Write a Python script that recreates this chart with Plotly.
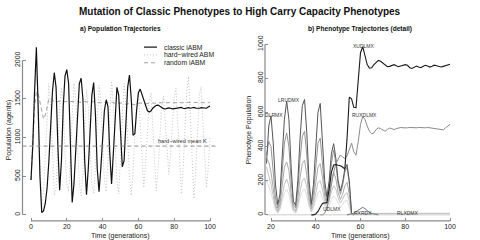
import plotly.graph_objects as go

# ---------------- data ----------------
gens = list(range(0, 101))
classic_iabm = [450, 900, 1600, 2170, 1400, 500, 30, 50, 150, 350,
                700, 1150, 1600, 1840, 1650, 900, 320, 700, 1400, 1800,
                1880, 1700, 800, 160, 400, 900, 1400, 1700, 1768, 1500,
                700, 260, 600, 1100, 1550, 1713, 1300, 600, 300, 600,
                1000, 1350, 1490, 1400, 800, 400, 800, 1300, 1650, 1550,
                1000, 620, 700, 1200, 1650, 1810, 1500, 1030, 1050, 1350,
                1580, 1628, 1560, 1480, 1400, 1350, 1332, 1345, 1380, 1405,
                1418, 1421, 1410, 1390, 1375, 1370, 1378, 1385, 1380, 1372,
                1376, 1382, 1379, 1385, 1390, 1380, 1375, 1383, 1388, 1380,
                1384, 1390, 1382, 1376, 1380, 1388, 1385, 1375, 1380, 1395,
                1410]
hardwired_abm = [450, 1100, 1700, 1900, 1300, 500, 100, 300, 800, 1350,
                 1700, 1400, 800, 250, 350, 850, 1400, 1650, 1350, 800,
                 400, 300, 700, 1250, 1700, 1500, 900, 400, 250, 550,
                 1100, 1620, 1400, 850, 400, 280, 600, 1200, 1680, 1450,
                 900, 450, 300, 700, 1300, 1730, 1450, 900, 450, 270,
                 700, 1300, 1700, 1450, 950, 500, 250, 550, 1050, 1450,
                 1600, 1200, 700, 350, 650, 1100, 1450, 1580, 1150, 650,
                 310, 600, 1050, 1400, 1540, 1200, 800, 520, 800, 1200,
                 1520, 1640, 1200, 650, 270, 600, 1150, 1600, 1790, 1300,
                 700, 210, 550, 1100, 1550, 1660, 1200, 700, 350, 600,
                 1000]
random_iabm = [450, 950, 1400, 1590, 1570, 1460, 1330, 1240, 1290, 1410,
               1500, 1510, 1485, 1465, 1458, 1466, 1472, 1468, 1460, 1462,
               1470, 1468, 1460, 1458, 1464, 1470, 1466, 1458, 1455, 1462,
               1468, 1463, 1455, 1452, 1460, 1466, 1460, 1452, 1450, 1456,
               1462, 1458, 1450, 1446, 1452, 1458, 1452, 1445, 1440, 1446,
               1452, 1448, 1440, 1432, 1436, 1444, 1438, 1425, 1422, 1432,
               1442, 1448, 1446, 1440, 1436, 1440, 1446, 1450, 1448, 1444,
               1446, 1452, 1456, 1452, 1448, 1450, 1455, 1458, 1454, 1450,
               1452, 1456, 1458, 1455, 1450, 1452, 1457, 1460, 1456, 1452,
               1454, 1458, 1460, 1456, 1452, 1450, 1455, 1452, 1446, 1450,
               1462]
hardwired_mean_K = 890

x_ticks_a = [0, 20, 40, 60, 80, 100]
y_ticks_a = [0, 500, 1000, 1500, 2000]
x_ticks_b = [20, 40, 60, 80, 100]
y_ticks_b = [0, 200, 400, 600, 800, 1000]

# phenotype detail (panel b)
osc_gens = list(range(18, 58))
pheno_lrudmx = [300, 520, 580, 420, 180, 60, 120, 330, 560, 666,
                560, 280, 80, 55, 200, 450, 640, 676, 480, 200,
                65, 180, 420, 600, 653, 450, 200, 105, 200, 360,
                417, 330, 200, 140, 190, 270, 295, 200, 10, 0]
pheno_osc2 = [350, 430, 400, 250, 100, 40, 90, 250, 420, 480,
              400, 200, 60, 40, 150, 330, 460, 490, 350, 150,
              50, 130, 300, 420, 450, 320, 150, 80, 160, 300,
              380, 300, 180, 120, 170, 250, 280, 180, 10, 0]
pheno_osc3 = [330, 310, 250, 150, 60, 25, 60, 170, 280, 310,
              260, 130, 40, 25, 100, 220, 300, 320, 230, 100,
              35, 90, 200, 280, 300, 220, 110, 60, 110, 200,
              250, 210, 130, 90, 120, 170, 190, 120, 5, 0]
pheno_osc4 = [280, 230, 180, 110, 40, 15, 40, 110, 180, 210,
              170, 90, 30, 15, 60, 140, 200, 215, 160, 70,
              20, 60, 130, 190, 200, 150, 80, 40, 80, 140,
              170, 150, 100, 70, 90, 120, 130, 80, 5, 0]
pheno_osc5 = [200, 170, 130, 80, 30, 10, 30, 80, 130, 150,
              120, 60, 20, 10, 40, 100, 140, 150, 110, 50,
              15, 40, 90, 130, 140, 100, 50, 25, 50, 90,
              110, 95, 65, 45, 60, 80, 85, 50, 3, 0]
xud_gens = list(range(38, 101))
pheno_xudlmx = [0, 0, 5, 20, 45, 67, 70, 72, 150, 250,
                292, 295, 290, 288, 280, 268, 450, 690, 680, 630,
                628, 800, 950, 985, 930, 880, 860, 862, 880, 895,
                905, 900, 888, 875, 868, 870, 876, 880, 874, 868,
                872, 878, 880, 876, 862, 858, 865, 872, 866, 862,
                870, 876, 872, 866, 870, 877, 874, 868, 866, 870,
                874, 878, 882]
rux_gens = list(range(42, 101))
pheno_ruxdlmx = [0, 0, 10, 40, 100, 180, 250, 300, 330, 350,
                 340, 330, 345, 380, 420, 370, 350, 430, 530, 575,
                 560, 520, 490, 475, 480, 500, 510, 505, 495, 490,
                 500, 508, 505, 500, 505, 510, 512, 510, 508, 510,
                 512, 510, 508, 510, 512, 510, 508, 510, 512, 510,
                 512, 510, 508, 505, 500, 498, 510, 520, 530]
small_gens = list(range(54, 69))
pheno_small = [0, 2, 5, 10, 18, 28, 38, 44, 36, 24, 14, 8, 4, 2, 0]
rlx_gens = list(range(54, 101))
pheno_rlxdmx = [0, 2, 5, 8, 10, 9, 8, 8, 9, 10,
                10, 9, 8, 8, 9, 10, 10, 9, 9, 10,
                11, 10, 9, 9, 10, 11, 11, 10, 9, 9,
                10, 11, 10, 9, 9, 10, 11, 10, 10, 9,
                9, 10, 11, 10, 10, 9, 9]
base_gens = [18, 100]
base_vals = [0, 0]

label_text = ["DLRMX", "LRUDMX", "XUDLMX", "RUXDLMX", "UDLMX", "RXRDX", "RLXDMX"]
label_x = [21.3, 28.0, 61.6, 61.6, 47.3, 61.3, 81.2]
label_y = [586, 675, 988, 587, 36, 12, 9]

legend_names = ["classic iABM", "hard\u2212wired ABM", "random iABM"]

# ---------------- figure ----------------
FONT = "Liberation Sans, Arial, Helvetica, sans-serif"
W, H = 480, 240


def px(x):
    return x / W


def py(y):
    return 1 - y / H


fig = go.Figure()

# panel a
fig.add_trace(go.Scatter(x=gens, y=hardwired_abm, mode="lines", xaxis="x", yaxis="y",
                         line=dict(color="#c4c4c4", width=1, dash="1px,2px")))
fig.add_trace(go.Scatter(x=gens, y=random_iabm, mode="lines", xaxis="x", yaxis="y",
                         line=dict(color="#a0a0a0", width=1, dash="4px,3px")))
fig.add_trace(go.Scatter(x=gens, y=classic_iabm, mode="lines", xaxis="x", yaxis="y",
                         line=dict(color="#111111", width=1.2)))

# panel b
fig.add_trace(go.Scatter(x=base_gens, y=base_vals, mode="lines", xaxis="x2", yaxis="y2",
                         line=dict(color="#cccccc", width=1)))
for vals, col in [(pheno_osc5, "#dddddd"), (pheno_osc4, "#c4c4c4"),
                  (pheno_osc3, "#ababab"), (pheno_osc2, "#959595"),
                  (pheno_lrudmx, "#555555")]:
    fig.add_trace(go.Scatter(x=osc_gens, y=vals, mode="lines", xaxis="x2", yaxis="y2",
                             line=dict(color=col, width=1)))
fig.add_trace(go.Scatter(x=rlx_gens, y=pheno_rlxdmx, mode="lines", xaxis="x2", yaxis="y2",
                         line=dict(color="#bbbbbb", width=1)))
fig.add_trace(go.Scatter(x=small_gens, y=pheno_small, mode="lines", xaxis="x2", yaxis="y2",
                         line=dict(color="#777777", width=1)))
fig.add_trace(go.Scatter(x=rux_gens, y=pheno_ruxdlmx, mode="lines", xaxis="x2", yaxis="y2",
                         line=dict(color="#8a8a8a", width=1)))
fig.add_trace(go.Scatter(x=xud_gens, y=pheno_xudlmx, mode="lines", xaxis="x2", yaxis="y2",
                         line=dict(color="#1a1a1a", width=1.1)))

AX_COL = "#8a8a8a"
tickfont = dict(family=FONT, size=7, color="#222222")
common = dict(showgrid=False, zeroline=False, showline=False, ticks="inside",
              ticklen=3, tickwidth=1, tickcolor=AX_COL, tickfont=tickfont, fixedrange=True)

ydom = [py(220.5), py(36)]
fig.update_layout(
    width=W, height=H, margin=dict(l=0, r=0, t=0, b=0),
    paper_bgcolor="white", plot_bgcolor="white", showlegend=False,
    font=dict(family=FONT, size=7, color="#222222"),
    xaxis=dict(domain=[px(22.5), px(217)], range=[-4.75, 103.9], anchor="y",
               tickvals=x_ticks_a, **common),
    yaxis=dict(domain=ydom, range=[-78.6, 2260], anchor="x",
               tickvals=y_ticks_a, tickangle=-90, **common),
    xaxis2=dict(domain=[px(265), px(457)], range=[17.32, 103.13], anchor="y2",
                tickvals=x_ticks_b, **common),
    yaxis2=dict(domain=ydom, range=[-35.6, 1023], anchor="x2",
                tickvals=y_ticks_b, tickangle=-90, **common),
)

shapes = []
# axis lines R-style (first tick to last tick)
shapes.append(dict(type="line", xref="x", yref="y domain", x0=x_ticks_a[0], x1=x_ticks_a[-1],
                   y0=0, y1=0, line=dict(color=AX_COL, width=1.2)))
shapes.append(dict(type="line", xref="x domain", yref="y", x0=0, x1=0,
                   y0=y_ticks_a[0], y1=y_ticks_a[-1], line=dict(color=AX_COL, width=1.2)))
shapes.append(dict(type="line", xref="x2", yref="y2 domain", x0=x_ticks_b[0], x1=x_ticks_b[-1],
                   y0=0, y1=0, line=dict(color=AX_COL, width=1.2)))
shapes.append(dict(type="line", xref="x2 domain", yref="y2", x0=0, x1=0,
                   y0=y_ticks_b[0], y1=y_ticks_b[-1], line=dict(color=AX_COL, width=1.2)))
# hard-wired mean K
shapes.append(dict(type="line", xref="x domain", yref="y", x0=0, x1=1,
                   y0=hardwired_mean_K, y1=hardwired_mean_K,
                   line=dict(color="#8a8a8a", width=1, dash="4px,3px")))
# legend samples
leg_styles = [dict(color="#111111", width=1.2),
              dict(color="#c4c4c4", width=1, dash="1px,2px"),
              dict(color="#a0a0a0", width=1, dash="4px,3px")]
leg_y = [43, 51, 59]
for st, yy in zip(leg_styles, leg_y):
    shapes.append(dict(type="line", xref="paper", yref="paper", x0=px(144), x1=px(157),
                       y0=py(yy), y1=py(yy), line=st))

annotations = []
annotations.append(dict(text="<b>Mutation of Classic Phenotypes to High Carry Capacity Phenotypes</b>",
                        xref="paper", yref="paper", x=px(240), y=py(7), showarrow=False,
                        xanchor="center", yanchor="middle",
                        font=dict(family=FONT, size=10, color="#111111")))
annotations.append(dict(text="<b>a) Population Trajectories</b>", xref="paper", yref="paper",
                        x=px(120), y=py(24.5), showarrow=False, xanchor="center", yanchor="middle",
                        font=dict(family=FONT, size=6.6, color="#111111")))
annotations.append(dict(text="<b>b) Phenotype Trajectories (detail)</b>", xref="paper", yref="paper",
                        x=px(359.5), y=py(24.5), showarrow=False, xanchor="center", yanchor="middle",
                        font=dict(family=FONT, size=6.6, color="#111111")))
for xc in (120.5, 360.5):
    annotations.append(dict(text="Time (generations)", xref="paper", yref="paper",
                            x=px(xc), y=py(236), showarrow=False, xanchor="center", yanchor="middle",
                            borderpad=0,
                            font=dict(family=FONT, size=7, color="#222222")))
annotations.append(dict(text="Population (agents)", xref="paper", yref="paper",
                        x=px(9), y=py(128), showarrow=False, textangle=-90,
                        xanchor="center", yanchor="middle",
                        font=dict(family=FONT, size=7, color="#222222")))
annotations.append(dict(text="Phenotype Population", xref="paper", yref="paper",
                        x=px(249), y=py(128), showarrow=False, textangle=-90,
                        xanchor="center", yanchor="middle",
                        font=dict(family=FONT, size=7, color="#222222")))
annotations.append(dict(text="hard\u2212wired mean K", xref="paper", yref="paper",
                        x=px(209), y=py(139), showarrow=False, xanchor="right", yanchor="middle",
                        font=dict(family=FONT, size=5.6, color="#333333")))
for name, yy in zip(legend_names, leg_y):
    annotations.append(dict(text=name, xref="paper", yref="paper", x=px(162), y=py(yy),
                            showarrow=False, xanchor="left", yanchor="middle",
                            font=dict(family=FONT, size=6.8, color="#222222")))
for t, lx, ly in zip(label_text, label_x, label_y):
    annotations.append(dict(text=t, xref="x2", yref="y2", x=lx, y=ly, showarrow=False,
                            xanchor="center", yanchor="middle",
                            font=dict(family=FONT, size=5, color="#333333")))

fig.update_layout(shapes=shapes, annotations=annotations)
fig.write_html(
    "out.html",
    config=dict(displayModeBar=False, staticPlot=True),
    post_script="document.body.style.margin='0px';document.body.style.padding='0px';"
                "document.body.style.overflow='hidden';",
)
